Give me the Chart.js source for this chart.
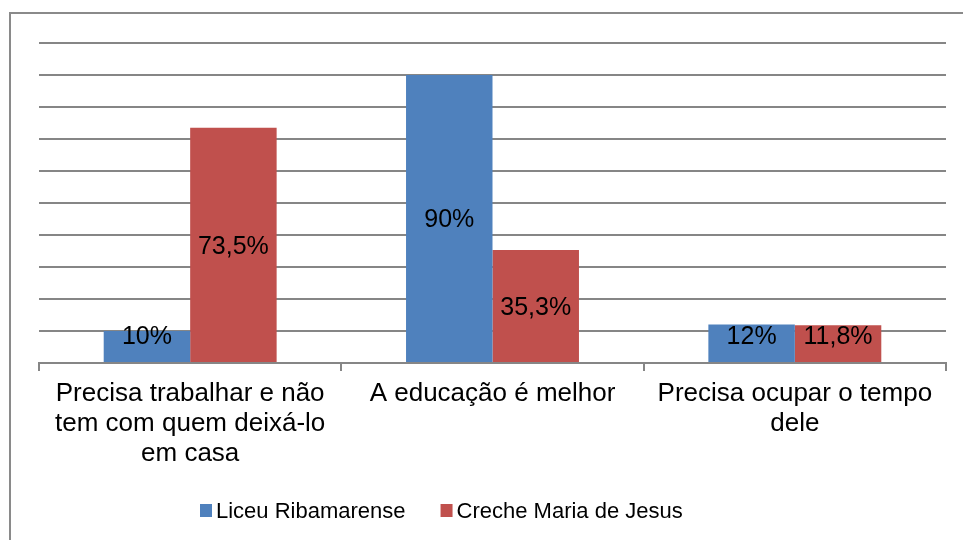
<!DOCTYPE html>
<html>
<head>
<meta charset="utf-8">
<script src="https://cdn.jsdelivr.net/npm/chart.js@4/dist/chart.umd.min.js"></script>
<style>
  html, body { margin: 0; padding: 0; background: #fff; overflow: hidden; }
  #wrap { position: relative; width: 963px; height: 540px; }
  #frame { position: absolute; left: 9px; top: 12px; width: 1000px; height: 600px; border: 2px solid #8a8a8a; }
  canvas { position: absolute; left: 0; top: 0; }
</style>
</head>
<body>
<div id="wrap">
  <div id="frame"></div>
  <canvas id="myChart" width="963" height="540"></canvas>
</div>
<script>
  "use strict";

  // categories (multi-line labels)
  const categories = [
    ['Precisa trabalhar e não', 'tem com quem deixá-lo', 'em casa'],
    ['A educação é melhor'],
    ['Precisa ocupar o tempo', 'dele']
  ];
  const seriesNames = ['Liceu Ribamarense', 'Creche Maria de Jesus'];
  const liceuValues = [10, 90, 12];
  const crecheValues = [73.5, 35.3, 11.8];
  const seriesColors = ['#4F81BD', '#C0504D'];

  const gridColor = '#868686';
  const fontFamily = '"Liberation Sans", Arial, sans-serif';

  function fmt(v) {
    return String(v).replace('.', ',') + '%';
  }

  // value labels inside bars (kept above the base for short bars)
  const barLabels = {
    id: 'barLabels',
    afterDatasetsDraw(chart) {
      const ctx = chart.ctx;
      ctx.save();
      ctx.font = '25px ' + fontFamily;
      ctx.fillStyle = '#000';
      ctx.textAlign = 'center';
      ctx.textBaseline = 'middle';
      chart.data.datasets.forEach((ds, i) => {
        chart.getDatasetMeta(i).data.forEach((bar, j) => {
          const y = Math.min((bar.y + bar.base) / 2 + 2, bar.base - 25);
          ctx.fillText(fmt(ds.data[j]), bar.x, y);
        });
      });
      ctx.restore();
    }
  };

  // legend drawn like the original: small square + close text
  const bottomLegend = {
    id: 'bottomLegend',
    afterDraw(chart) {
      const ctx = chart.ctx;
      ctx.save();
      ctx.font = '22px ' + fontFamily;
      ctx.textBaseline = 'alphabetic';
      let x = 200;
      const baseline = 518;
      chart.data.datasets.forEach((ds) => {
        ctx.fillStyle = ds.backgroundColor;
        ctx.fillRect(x, 504, 12, 13);
        ctx.fillStyle = '#000';
        ctx.fillText(ds.label, x + 16, baseline);
        x += 16 + ctx.measureText(ds.label).width + 35;
      });
      ctx.restore();
    }
  };

  const ctx = document.getElementById('myChart').getContext('2d');
  const chart = new Chart(ctx, {
    type: 'bar',
    data: {
      labels: categories,
      datasets: [
        {
          label: seriesNames[0],
          backgroundColor: seriesColors[0],
          data: liceuValues
        },
        {
          label: seriesNames[1],
          backgroundColor: seriesColors[1],
          data: crecheValues
        }
      ]
    },
    options: {
      responsive: false,
      animation: false,
      datasets: {
        bar: { categoryPercentage: 0.572, barPercentage: 1.0 }
      },
      layout: {
        padding: { left: 39, right: 17, top: 43, bottom: 0 }
      },
      plugins: {
        legend: { display: false },
        tooltip: { enabled: false }
      },
      scales: {
        x: {
          grid: {
            display: true,
            drawOnChartArea: false,
            drawTicks: true,
            tickLength: 8,
            color: gridColor,
            lineWidth: 2
          },
          border: { display: true, color: gridColor, width: 2 },
          ticks: {
            color: '#000',
            padding: 8,
            maxRotation: 0,
            autoSkip: false,
            font: { family: fontFamily, size: 26, lineHeight: 1.15 }
          },
          afterFit(scale) { scale.height = 177; }
        },
        y: {
          min: 0,
          max: 100,
          ticks: { display: false, stepSize: 10 },
          grid: { color: gridColor, lineWidth: 2, drawTicks: false },
          border: { display: false },
          afterFit(scale) { scale.width = 0; }
        }
      }
    },
    plugins: [barLabels, bottomLegend]
  });
</script>
</body>
</html>
